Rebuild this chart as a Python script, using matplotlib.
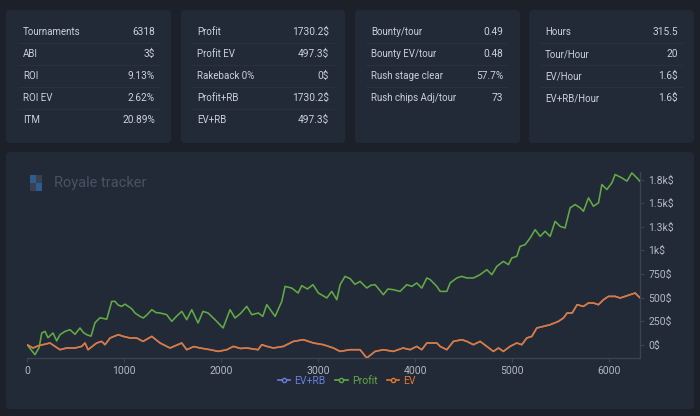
import matplotlib
matplotlib.use("Agg")
import matplotlib.pyplot as plt
from matplotlib.patches import FancyBboxPatch, Rectangle
from matplotlib.lines import Line2D

# ---------------- data ----------------
card1_labels = ["Tournaments", "ABI", "ROI", "ROI EV", "ITM"]
card1_values = ["6318", "3$", "9.13%", "2.62%", "20.89%"]
card2_labels = ["Profit", "Profit EV", "Rakeback 0%", "Profit+RB", "EV+RB"]
card2_values = ["1730.2$", "497.3$", "0$", "1730.2$", "497.3$"]
card3_labels = ["Bounty/tour", "Bounty EV/tour", "Rush stage clear", "Rush chips Adj/tour"]
card3_values = ["0.49", "0.48", "57.7%", "73"]
card4_labels = ["Hours", "Tour/Hour", "EV/Hour", "EV+RB/Hour"]
card4_values = ["315.5", "20", "1.6$", "1.6$"]

profit_x = [0, 82, 125, 152, 186, 216, 268, 306, 340, 392, 443, 495, 546, 580, 615, 660,
            701, 753, 822, 873, 907, 940, 976, 1010, 1044, 1080, 1113, 1165, 1199, 1240,
            1286, 1330, 1371, 1440, 1492, 1540, 1595, 1646, 1698, 1763, 1814, 1866, 1938,
            2021, 2093, 2144, 2200, 2265, 2317, 2385, 2430, 2471, 2557, 2626, 2660, 2729,
            2794, 2832, 2890, 2948, 3003, 3090, 3141, 3193, 3227, 3278, 3330, 3380, 3433,
            3502, 3545, 3588, 3673, 3720, 3776, 3845, 3914, 3966, 4017, 4069, 4121, 4155,
            4224, 4258, 4327, 4361, 4430, 4481, 4533, 4601, 4670, 4739, 4791, 4842, 4910,
            4962, 4997, 5048, 5082, 5134, 5186, 5237, 5289, 5340, 5392, 5443, 5495, 5546,
            5598, 5649, 5701, 5735, 5787, 5838, 5890, 5925, 5976, 6028, 6062, 6131, 6183,
            6234, 6286, 6318]
profit_y = [0, -106, -30, 124, 141, 74, 124, 40, 106, 141, 159, 110, 177, 130, 106, 90,
            233, 286, 270, 459, 459, 420, 406, 430, 406, 380, 336, 300, 283, 320,
            371, 340, 336, 318, 247, 300, 353, 265, 371, 230, 353, 336, 265,
            177, 371, 283, 330, 406, 318, 336, 300, 424, 300, 459, 618, 600,
            548, 626, 590, 636, 548, 495, 565, 477, 636, 724, 700, 640, 671,
            601, 630, 636, 530, 590, 583, 565, 636, 618, 654, 600, 707, 690,
            618, 565, 565, 654, 707, 724, 707, 707, 742, 795, 742, 830, 883,
            848, 919, 936, 1042, 1060, 1131, 1219, 1148, 1202, 1148, 1307, 1254, 1237,
            1450, 1485, 1450, 1414, 1556, 1467, 1503, 1697, 1644, 1715, 1803, 1768, 1733,
            1820, 1768, 1730]

ev_x = [0, 62, 120, 165, 237, 289, 340, 409, 495, 564, 598, 629, 718, 770, 804, 856,
        941, 993, 1062, 1131, 1196, 1286, 1371, 1474, 1595, 1646, 1720, 1784, 1887, 1972,
        2059, 2127, 2200, 2265, 2381, 2420, 2480, 2539, 2642, 2745, 2849, 2952, 3055, 3158,
        3227, 3330, 3433, 3502, 3588, 3673, 3776, 3876, 3948, 4017, 4069, 4121, 4224,
        4258, 4327, 4395, 4481, 4533, 4601, 4670, 4739, 4807, 4859, 4910, 4979, 5048,
        5100, 5151, 5203, 5254, 5323, 5392, 5477, 5529, 5567, 5619, 5670, 5735, 5787,
        5838, 5890, 5942, 5993, 6062, 6113, 6165, 6216, 6268, 6318]
ev_y = [0, -35, -10, 0, 18, -18, -53, -35, -35, -18, 18, -53, 18, 35, 0, 71,
        106, 88, 71, 71, 35, 88, 18, -35, 18, -53, -20, -35, -53, -71,
        -53, -18, -40, -35, -53, 0, -20, -35, -18, 35, 53, 18, 0, -35,
        -71, -53, -53, -141, -71, -53, -71, -35, -53, -18, -53, 18, 18,
        -18, -53, 35, 53, 35, 0, 35, -18, -71, -35, -71, -18, 18,
        0, 71, 88, 177, 194, 212, 247, 283, 336, 336, 424, 406, 442,
        442, 424, 477, 512, 512, 495, 512, 530, 547, 497]
evrb_y = list(ev_y)

xticks = [0, 1000, 2000, 3000, 4000, 5000, 6000]
yticks = [0, 250, 500, 750, 1000, 1250, 1500, 1750]
ytick_labels = ["0$", "250$", "500$", "750$", "1k$", "1.3k$", "1.5k$", "1.8k$"]
series_names = ["EV+RB", "Profit", "EV"]

# ---------------- style ----------------
BG = "#1b2029"
CARD = "#222a37"
SEP = "#29313f"
TXT = "#cbd0d8"
TICK = "#b3b8c1"
GREEN = "#62aa45"
ORANGE = "#e5782d"
BLUE = "#6a7fdb"
FONT = ["Roboto", "DejaVu Sans"]
plt.rcParams["font.family"] = FONT

W, H = 700, 416
fig = plt.figure(figsize=(W / 100, H / 100), dpi=100, facecolor=BG)
bg = fig.add_axes([0, 0, 1, 1])
bg.set_xlim(0, W)
bg.set_ylim(H, 0)
bg.axis("off")
bg.set_facecolor(BG)


def card(x0, y0, x1, y1):
    bg.add_patch(FancyBboxPatch((x0 + 4, y0 + 4), x1 - x0 - 8, y1 - y0 - 8,
                                boxstyle="round,pad=4", fc=CARD, ec="none", zorder=1))


cards = [(6, 10, 171, 143, 23, 155, card1_labels, card1_values),
         (181, 10, 345, 143, 197, 329, card2_labels, card2_values),
         (355, 10, 520, 143, 371, 503, card3_labels, card3_values),
         (529, 10, 694, 143, 545, 678, card4_labels, card4_values)]
for (x0, y0, x1, y1, lx, rx, labels, values) in cards:
    card(x0, y0, x1, y1)
    for i, (lab, val) in enumerate(zip(labels, values)):
        ty = 32 + i * 22
        bg.text(lx, ty, lab, color=TXT, fontsize=7, va="center", ha="left", zorder=3)
        bg.text(rx, ty, val, color=TXT, fontsize=7.3, va="center", ha="right", zorder=3)
        if i < len(labels) - 1:
            bg.plot([lx - 5, rx + 5], [ty + 11, ty + 11], color=SEP, lw=0.8, zorder=2)

# chart card
card(6, 152, 694, 409)
# watermark icon
bg.add_patch(Rectangle((30, 175), 6, 8, fc="#2d5d8f", ec="none", zorder=2))
bg.add_patch(Rectangle((36, 175), 6, 8, fc="#39414e", ec="none", zorder=2))
bg.add_patch(Rectangle((30, 183), 6, 8, fc="#39414e", ec="none", zorder=2))
bg.add_patch(Rectangle((36, 183), 6, 8, fc="#2d5d8f", ec="none", zorder=2))
bg.text(54, 183, "Royale tracker", color="#4a5262", fontsize=10.5, va="center",
        ha="left", zorder=2)

# ---------------- chart ----------------
ax = fig.add_axes([27 / W, 1 - 358 / H, (640 - 27) / W, (358 - 172) / H])
ax.set_facecolor("none")
kw = dict(lw=1.15, solid_joinstyle="round", solid_capstyle="round")
ax.plot(ev_x, evrb_y, color=BLUE, zorder=2, **kw)
ax.plot(profit_x, profit_y, color=GREEN, zorder=3, **kw)
ax.plot(ev_x, ev_y, color=ORANGE, zorder=4, **kw)
ax.set_xlim(0, 6318)
ax.set_ylim(-141, 1830)
ax.yaxis.tick_right()
ax.set_xticks(xticks)
ax.set_xticklabels([str(t) for t in xticks])
ax.set_yticks(yticks)
ax.set_yticklabels(ytick_labels)
for s in ["top", "left"]:
    ax.spines[s].set_visible(False)
for s in ["bottom", "right"]:
    ax.spines[s].set_color("#3b4350")
    ax.spines[s].set_linewidth(1.0)
ax.tick_params(axis="both", colors="#3b4350", labelcolor=TICK, labelsize=7.5,
               length=3, width=0.8, pad=3)

handles = [Line2D([], [], color=c, lw=1.2, marker="o", markersize=3,
                  markerfacecolor=CARD, markeredgewidth=1)
           for c in (BLUE, GREEN, ORANGE)]
leg = fig.legend(handles, series_names, loc="center", bbox_to_anchor=(347 / W, 1 - 381 / H),
                 ncol=3, frameon=False, fontsize=7.5, handlelength=1.2, handletextpad=0.4,
                 columnspacing=0.9)
for t, c in zip(leg.get_texts(), (BLUE, GREEN, ORANGE)):
    t.set_color(c)

fig.savefig("out.png", dpi=100, facecolor=BG)
